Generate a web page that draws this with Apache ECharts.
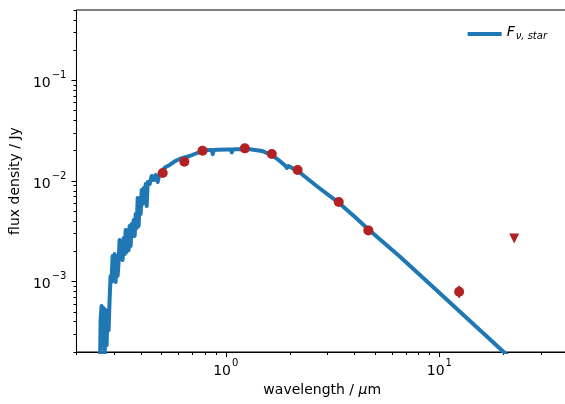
<!DOCTYPE html>
<html>
<head>
<meta charset="utf-8">
<script src="https://cdn.jsdelivr.net/npm/echarts@6/dist/echarts.min.js"></script>
<style>
html,body{margin:0;padding:0;overflow:hidden;background:#fff;width:565px;height:404px;}
#chart{width:568px;height:404px;}
</style>
</head>
<body>
<div id="chart"></div>
<script>
// Model spectrum (wavelength in micron, flux density in Jy)
const specWave = [0.2566,0.2594,0.2622,0.2651,0.2680,0.2709,0.2738,0.2768,0.2797,0.2828,0.2858,
  0.2889,0.2921,0.2953,0.2985,0.3018,0.3050,0.3083,0.3117,0.3150,0.3185,0.3219,0.3254,0.3290,0.3325,
  0.3362,0.3398,0.3435,0.3473,0.3510,0.3548,0.3587,0.3626,0.3665,0.3705,0.3745,0.3786,0.3827,0.3869,
  0.3911,0.3953,0.3996,0.4040,0.4084,0.4128,0.4173,0.4218,0.4264,0.4310,0.4404,0.4498,0.4597,0.4697,
  0.4799,0.4904,0.5068,0.5233,0.5468,0.5806,0.6085,0.678,0.7555,0.8223,0.8599,0.8693,0.8786,0.917,
  1.022,1.056,1.067,1.078,1.114,1.296,1.475,1.643,1.791,1.900,1.932,1.965,2.176,2.699,3.351,4.025,
  4.632,6.544,10.08,20.0,25.0];
const specFlux = [6e-5,4.15e-4,5.72e-4,2.63e-4,5.46e-4,1.66e-4,5.22e-4,2.34e-4,4.99e-4,3.30e-4,6.56e-4,
  1.14e-3,9.91e-4,1.80e-3,1.04e-3,1.88e-3,9.91e-4,1.80e-3,1.14e-3,1.57e-3,2.59e-3,1.72e-3,2.48e-3,1.64e-3,2.71e-3,
  1.88e-3,3.26e-3,1.97e-3,3.26e-3,2.06e-3,3.57e-3,2.26e-3,3.74e-3,2.84e-3,4.10e-3,2.84e-3,4.70e-3,3.41e-3,6.78e-3,
  3.57e-3,6.78e-3,4.70e-3,8.14e-3,5.91e-3,8.52e-3,6.47e-3,9.34e-3,5.64e-3,9.77e-3,9.34e-3,0.01121,0.01023,0.01147,
  9.77e-3,0.0120,0.01286,0.01378,0.01443,0.01581,0.01655,0.01772,0.01942,0.0203,0.0203,0.0185,0.0203,0.0204,
  0.0206,0.0206,0.0192,0.0206,0.0207,0.0207,0.0199,0.01813,0.01581,0.01420,0.01346,0.0141,0.01257,8.72e-3,6.18e-3,4.385e-3,
  3.333e-3,1.768e-3,7.61e-4,2.0e-4,1.28e-4];

// Photometry
const photWave = [0.507,0.640,0.778,1.228,1.643,2.17,3.38,4.65,12.37];
const photFlux = [0.0120,0.01555,0.0200,0.0211,0.01855,0.01286,0.00618,0.00323,7.94e-4];
// error bar (lower, upper) on the 12 micron point
const errWave = [12.37];
const errLow = [6.9e-4];
const errHigh = [9.1e-4];
// upper limit
const ulWave = [22.4];
const ulFlux = [0.00268];

// Ticks
const xMajorTicks = [1, 10];
const xMinorTicks = [0.2,0.3,0.4,0.5,0.6,0.7,0.8,0.9,2,3,4,5,6,7,8,9,20,30,40];
const yMajorTicks = [1e-3, 1e-2, 1e-1];
const yMinorTicks = [2e-4,3e-4,4e-4,5e-4,6e-4,7e-4,8e-4,9e-4,2e-3,3e-3,4e-3,5e-3,6e-3,7e-3,8e-3,9e-3,2e-2,3e-2,4e-2,5e-2,6e-2,7e-2,8e-2,9e-2,0.2,0.3,0.4,0.5];

const FONT = 'DejaVu Sans';
const tickRich = {
  b: {fontFamily: FONT, fontSize: 14, color: '#000', verticalAlign: 'bottom', lineHeight: 20},
  s: {fontFamily: FONT, fontSize: 10, color: '#000', verticalAlign: 'top', lineHeight: 20, padding: [0,0,0,1]}
};
function powLabel(v) {
  const e = Math.round(Math.log10(v));
  const t = e < 0 ? '\u2212' + (-e) : String(e);
  return '{b|10}{s|' + t + '}';
}
const axisLineStyle = {color: '#000', width: 1};

const chart = echarts.init(document.getElementById('chart'), null, {renderer: 'canvas'});
const option = {
  animation: false,
  grid: {left: 76, top: 10, right: 0, bottom: 52, show: true, borderColor: '#000', borderWidth: 1, backgroundColor: 'transparent'},
  legend: {
    right: 16, top: 20, itemWidth: 34, itemHeight: 4, itemGap: 8,
    data: [{name: 'Fstar', icon: 'rect'}],
    formatter: function () { return '{F|F}{s|\u03bd, star}'; },
    textStyle: {
      rich: {
        F: {fontFamily: FONT, fontStyle: 'italic', fontSize: 14, color: '#000', verticalAlign: 'top', lineHeight: 18},
        s: {fontFamily: FONT, fontStyle: 'italic', fontSize: 10, color: '#000', verticalAlign: 'top', lineHeight: 18, padding: [6,0,0,1]}
      }
    }
  },
  xAxis: [
    {
      type: 'log', logBase: 10, min: 0.2, max: 40, position: 'bottom',
      axisLine: {show: true, onZero: false, lineStyle: axisLineStyle},
      axisTick: {show: true, customValues: xMajorTicks, length: 5, lineStyle: axisLineStyle},
      axisLabel: {customValues: xMajorTicks, formatter: powLabel, rich: tickRich, margin: 6},
      splitLine: {show: false},
      name: '{n|wavelength / }{i|\u03bc}{n|m}', nameLocation: 'middle', nameGap: 24,
      nameTextStyle: {
        fontFamily: FONT, fontSize: 14, color: '#000', verticalAlign: 'top',
        rich: {
          n: {fontFamily: FONT, fontSize: 14, color: '#000'},
          i: {fontFamily: FONT, fontSize: 14, color: '#000', fontStyle: 'italic'}
        }
      }
    },
    {
      type: 'log', logBase: 10, min: 0.2, max: 40, position: 'bottom',
      axisLine: {show: false},
      axisTick: {show: true, customValues: xMinorTicks, length: 3, lineStyle: axisLineStyle},
      axisLabel: {show: false},
      splitLine: {show: false}
    }
  ],
  yAxis: [
    {
      type: 'log', logBase: 10, min: 2e-4, max: 0.5, position: 'left',
      axisLine: {show: true, onZero: false, lineStyle: axisLineStyle},
      axisTick: {show: true, customValues: yMajorTicks, length: 5, lineStyle: axisLineStyle},
      axisLabel: {customValues: yMajorTicks, formatter: powLabel, rich: tickRich, margin: 10},
      splitLine: {show: false},
      name: 'flux density / Jy', nameLocation: 'middle', nameGap: 50, nameRotate: 90,
      nameTextStyle: {fontFamily: FONT, fontSize: 14, color: '#000'}
    },
    {
      type: 'log', logBase: 10, min: 2e-4, max: 0.5, position: 'left',
      axisLine: {show: false},
      axisTick: {show: true, customValues: yMinorTicks, length: 3, lineStyle: axisLineStyle},
      axisLabel: {show: false},
      splitLine: {show: false}
    }
  ],
  series: [
    {
      name: 'Fstar', type: 'line', xAxisIndex: 0, yAxisIndex: 0,
      data: specWave.map((w, i) => [w, specFlux[i]]),
      showSymbol: false, symbol: 'none', clip: true,
      lineStyle: {color: '#1f77b4', width: 4, join: 'round', cap: 'butt'},
      itemStyle: {color: '#1f77b4'}
    },
    {
      name: 'err', type: 'custom', xAxisIndex: 0, yAxisIndex: 0,
      data: errWave.map((w, i) => [w, errLow[i], errHigh[i]]),
      encode: {x: 0, y: [1, 2]},
      renderItem: function (params, api) {
        const p1 = api.coord([api.value(0), api.value(1)]);
        const p2 = api.coord([api.value(0), api.value(2)]);
        return {type: 'line', shape: {x1: p1[0], y1: p1[1], x2: p2[0], y2: p2[1]}, style: {stroke: '#b22222', lineWidth: 2}};
      },
      z: 3
    },
    {
      name: 'phot', type: 'scatter', xAxisIndex: 0, yAxisIndex: 0,
      data: photWave.map((w, i) => [w, photFlux[i]]),
      symbol: 'circle', symbolSize: 10,
      itemStyle: {color: '#b22222', opacity: 1}, z: 4
    },
    {
      name: 'ul', type: 'scatter', xAxisIndex: 0, yAxisIndex: 0,
      data: ulWave.map((w, i) => [w, ulFlux[i]]),
      symbol: 'triangle', symbolRotate: 180, symbolSize: [10, 10],
      itemStyle: {color: '#b22222', opacity: 1}, z: 4
    }
  ]
};
chart.setOption(option);
</script>
</body>
</html>
